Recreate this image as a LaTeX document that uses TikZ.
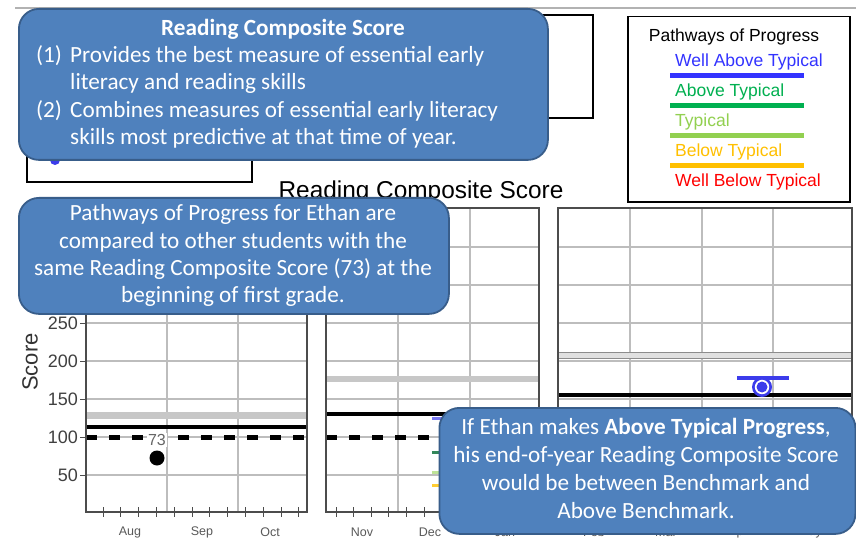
\documentclass[tikz,border=0pt]{standalone}
\usepackage{fontspec}
\setmainfont{Liberation Sans}
\newfontfamily\calloutfont{Carlito}
\definecolor{calloutblue}{RGB}{79,129,189}
\definecolor{calloutedge}{RGB}{56,93,138}
\definecolor{pwblue}{RGB}{51,51,255}
\definecolor{pwgreen}{RGB}{0,176,80}
\definecolor{pwlight}{RGB}{146,208,80}
\definecolor{pworange}{RGB}{255,192,0}
\definecolor{pwred}{RGB}{255,0,0}
\definecolor{markblue}{RGB}{60,60,235}
\tikzset{
  callout/.style={draw=calloutedge, line width=1.8pt, fill=calloutblue,
    rounded corners=20pt, anchor=north west, inner sep=0pt},
  cfont/.style={font=\calloutfont\fontsize{23.2}{27.5}\selectfont},
  ctext/.style={cfont, text=white, inner sep=0pt, text height=16.5pt, text depth=5pt},
  gridline/.style={draw=black!26, line width=1.2pt},
  panelframe/.style={draw=black!70, line width=1.3pt},
  band/.style={fill=black!22},
  cutline/.style={draw=black, line width=3.2pt},
  dashline/.style={draw=black, line width=4.2pt, dash pattern=on 11pt off 12pt},
  ticklabel/.style={font=\fontsize{18}{21}\selectfont, text=black!75, inner sep=0pt, anchor=east},
  monthlabel/.style={font=\fontsize{12.5}{15}\selectfont, text=black!65, inner sep=0pt},
  tickmark/.style={draw=black!70, line width=1pt},
  legtext/.style={font=\fontsize{17.5}{21}\selectfont, inner sep=0pt, anchor=west},
  legbar/.style={line width=5pt},
}
\begin{document}
\begin{tikzpicture}[x=1pt,y=-1pt]
\useasboundingbox (0,0) rectangle (856,548);
\fill[white] (0,0) rectangle (856,548);

% frame line along the top
\draw[black!30, line width=2pt] (15,8) -- (856,8);

% boxes partly covered by the first callout
\draw[black, line width=1.3pt] (470,15) -- (593,15) -- (593,118) -- (470,118);
\draw[black, line width=1.3pt] (27,120) -- (27,182) -- (252,182) -- (252,120);
\fill[markblue] (55,160) circle[radius=5pt];

% chart title
\node[font=\fontsize{24.4}{28}\selectfont, inner sep=0pt] (charttitle) at (421,192) {Reading Composite Score};

% ---------- grid ----------
\foreach \gy in {247,285,323,361,399,437,475} {
  \draw[gridline] (86,\gy) -- (307,\gy);
  \draw[gridline] (326,\gy) -- (539,\gy);
  \draw[gridline] (558,\gy) -- (852,\gy);
}
\foreach \gx in {167,238,398,470,630,702,773}
  \draw[gridline] (\gx,208) -- (\gx,512);

% ---------- benchmark bands and lines ----------
\fill[band] (86,412) rectangle (307,419);
\fill[band] (326,376) rectangle (539,382);
\filldraw[fill=black!12, draw=black!45, line width=1pt] (558,352) rectangle (852,358);

\draw[cutline] (86,427) -- (307,427);
\draw[cutline] (326,414) -- (539,414);
\draw[cutline] (558,395) -- (852,395);

\draw[dashline] (86,437.5) -- (307,437.5);
\draw[dashline] (326,437.5) -- (539,437.5);
\draw[dashline] (558,437.5) -- (852,437.5);

% ---------- panel frames ----------
\draw[panelframe] (86,208) rectangle (307,512);
\draw[panelframe] (326,208) rectangle (539,512);
\draw[panelframe] (558,208) rectangle (852,512);

% y axis ticks and labels
\foreach \v/\gy in {250/323,200/361,150/399,100/437,50/475} {
  \draw[tickmark] (80,\gy) -- (86,\gy);
  \node[ticklabel] (yl\v) at (78,\gy) {\v};
}
\node[font=\fontsize{22}{26}\selectfont, text=black!80, rotate=90, inner sep=0pt] (ylabel) at (30,362) {Score};

% x axis minor ticks
\foreach \k in {0,...,11} {
  \draw[tickmark] (103+17.8*\k,507) -- (103+17.8*\k,517);
  \draw[tickmark] (336+17.6*\k,507) -- (336+17.6*\k,517);
  \draw[tickmark] (575+17.8*\k,507) -- (575+17.8*\k,517);
}

% month labels
\foreach \m/\mx in {Aug/130,Sep/202,Oct/270,Nov/362,Dec/430,Jan/505,Feb/594,Mar/666,Apr/738,May/810}
  \node[monthlabel] (m\m) at (\mx,532) {\m};

% ---------- student data ----------
\node[fill=white, font=\fontsize{16}{18}\selectfont, text=black!60, inner sep=1pt] (score73) at (157,440) {73};
\fill[black] (157,458) circle[radius=7.5pt];

% ends of the pathway bars in the middle panel
\draw[markblue!70, line width=3pt] (432,418) -- (446,418);
\draw[pwgreen!60!black!80, line width=3pt] (432,452) -- (446,452);
\draw[pwlight!60, line width=3pt] (432,472) -- (446,472);
\draw[pworange!80, line width=3pt] (432,485) -- (446,485);

% end-of-year pathway bar and marker
\draw[markblue, line width=4pt] (737,378) -- (789,378);
\fill[markblue] (762,387) circle[radius=10pt];
\fill[white] (762,387) circle[radius=7.2pt];
\fill[markblue] (762,387) circle[radius=5.5pt];

% ---------- legend ----------
\node[draw=black, line width=1.5pt, anchor=north west, minimum width=222pt, minimum height=185pt, inner sep=0pt] (legend) at (627,16) {};
\node[legtext, anchor=center] (legtitle) at (734,37) {Pathways of Progress};
\node[legtext, text=pwblue] (lg1) at (675,62) {Well Above Typical};
\draw[legbar, pwblue] (670,76) -- (804,76);
\node[legtext, text=pwgreen] (lg2) at (675,92) {Above Typical};
\draw[legbar, pwgreen] (670,106) -- (804,106);
\node[legtext, text=pwlight] (lg3) at (675,122) {Typical};
\draw[legbar, pwlight] (670,136) -- (804,136);
\node[legtext, text=pworange] (lg4) at (675,152) {Below Typical};
\draw[legbar, pworange] (670,166) -- (804,166);
\node[legtext, text=pwred] (lg5) at (675,182) {Well Below Typical};

% ---------- callouts ----------
\node[callout, minimum width=529pt, minimum height=151pt] (c1) at (18,8) {};
\node[ctext, font=\calloutfont\bfseries\fontsize{23.2}{27.5}\selectfont] (c1title) at (283,30) {Reading Composite Score};
\node[ctext, anchor=west] (c1n1) at (36,57) {(1)};
\node[ctext, anchor=west] (c1l1) at (70,57) {Provides the best measure of essential early};
\node[ctext, anchor=west] (c1l2) at (70,84) {literacy and reading skills};
\node[ctext, anchor=west] (c1n2) at (36,112) {(2)};
\node[ctext, anchor=west] (c1l3) at (70,112) {Combines measures of essential early literacy};
\node[ctext, anchor=west] (c1l4) at (70,139) {skills most predictive at that time of year.};

\node[callout, minimum width=430pt, minimum height=116pt] (c2) at (18,197) {};
\node[ctext] (c2l1) at (233,215) {Pathways of Progress for Ethan are};
\node[ctext] (c2l2) at (233,243) {compared to other students with the};
\node[ctext] (c2l3) at (233,270) {same Reading Composite Score (73) at the};
\node[ctext] (c2l4) at (233,297) {beginning of first grade.};

\node[callout, minimum width=416pt, minimum height=126pt] (c3) at (438.5,407) {};
\node[ctext] (c3l1) at (646,429) {If Ethan makes \textbf{Above Typical Progress},};
\node[ctext] (c3l2) at (646,457) {his end-of-year Reading Composite Score};
\node[ctext] (c3l3) at (646,485) {would be between Benchmark and};
\node[ctext] (c3l4) at (646,513) {Above Benchmark.};
\end{tikzpicture}
\end{document}
